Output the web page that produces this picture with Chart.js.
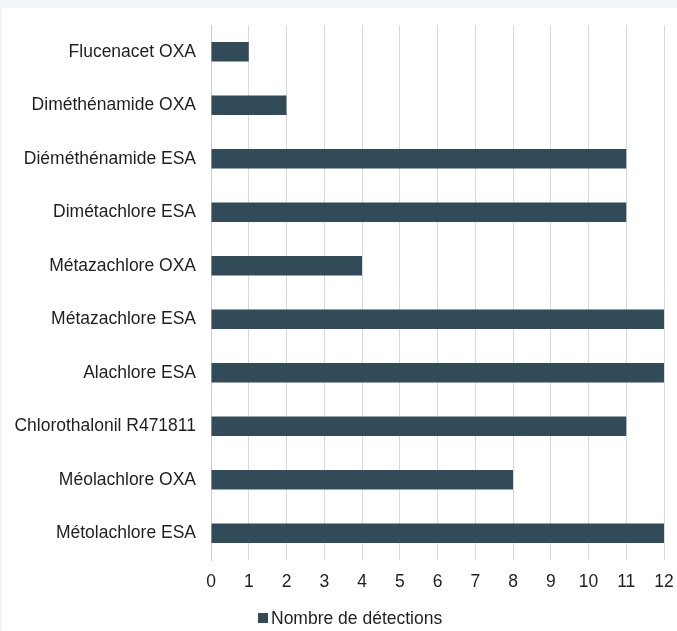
<!DOCTYPE html>
<html>
<head>
<meta charset="utf-8">
<script src="https://cdn.jsdelivr.net/npm/chart.js@4"></script>
<style>
  html, body { margin: 0; padding: 0; width: 677px; height: 631px; background: #f2f6f9; overflow: hidden; }
  #wrap { position: absolute; left: 2px; top: 8px; width: 675px; height: 623px; background: #ffffff; }
  canvas { display: block; }
</style>
</head>
<body>
<div id="wrap"><canvas id="c" width="675" height="623"></canvas></div>
<script>
const categories = [
  'Flucenacet OXA',
  'Diméthénamide OXA',
  'Diéméthénamide ESA',
  'Dimétachlore ESA',
  'Métazachlore OXA',
  'Métazachlore ESA',
  'Alachlore ESA',
  'Chlorothalonil R471811',
  'Méolachlore OXA',
  'Métolachlore ESA'
];
const detections = [1, 2, 11, 11, 4, 12, 12, 11, 8, 12];
const seriesName = 'Nombre de détections';
const xTicks = [0, 1, 2, 3, 4, 5, 6, 7, 8, 9, 10, 11, 12];

const FONT = { family: '"Liberation Sans", Arial, sans-serif', size: 17.5 };
const TEXT = '#1f1f1f';
const BAR = '#324b59';

// Legend drawn under the axis: one square marker followed by the series name
const bottomLegend = {
  id: 'bottomLegend',
  afterDraw(chart) {
    const ctx = chart.ctx;
    const ds = chart.data.datasets[0];
    const y = chart.height - 13;
    const boxX = 256;
    ctx.save();
    ctx.fillStyle = ds.backgroundColor;
    ctx.fillRect(boxX, y - 5, 10, 10);
    ctx.fillStyle = TEXT;
    ctx.font = `${FONT.size}px ${FONT.family}`;
    ctx.textAlign = 'left';
    ctx.textBaseline = 'middle';
    ctx.fillText(ds.label, boxX + 13, y + 1);
    ctx.restore();
  }
};

// Keep the plot area fixed: drop the extra room scales reserve for edge labels
function noEdgePadding(scale) {
  scale.paddingTop = 0;
  scale.paddingBottom = 0;
  scale.paddingLeft = 0;
  scale.paddingRight = 0;
}

new Chart(document.getElementById('c'), {
  type: 'bar',
  data: {
    labels: categories,
    datasets: [{
      label: seriesName,
      data: detections,
      backgroundColor: BAR,
      borderWidth: 0,
      categoryPercentage: 1,
      barPercentage: 0.36
    }]
  },
  options: {
    indexAxis: 'y',
    responsive: false,
    animation: false,
    layout: { autoPadding: false, padding: { left: 0, right: 13, top: 17, bottom: 37 } },
    scales: {
      x: {
        min: 0,
        max: 12,
        afterBuildTicks: (scale) => { scale.ticks = xTicks.map(v => ({ value: v })); },
        grid: { color: '#d9d9d9', lineWidth: 1, drawTicks: false },
        border: { display: false },
        ticks: { color: TEXT, font: FONT, padding: 12, maxRotation: 0 },
        afterFit: (scale) => { scale.height = 34; noEdgePadding(scale); }
      },
      y: {
        grid: { display: false, drawTicks: false },
        border: { display: true, color: '#cccccc', width: 1 },
        ticks: { color: TEXT, font: FONT, padding: 15 },
        afterFit: (scale) => { scale.width = 209; noEdgePadding(scale); }
      }
    },
    plugins: {
      legend: { display: false },
      tooltip: { enabled: false }
    }
  },
  plugins: [bottomLegend]
});
</script>
</body>
</html>
